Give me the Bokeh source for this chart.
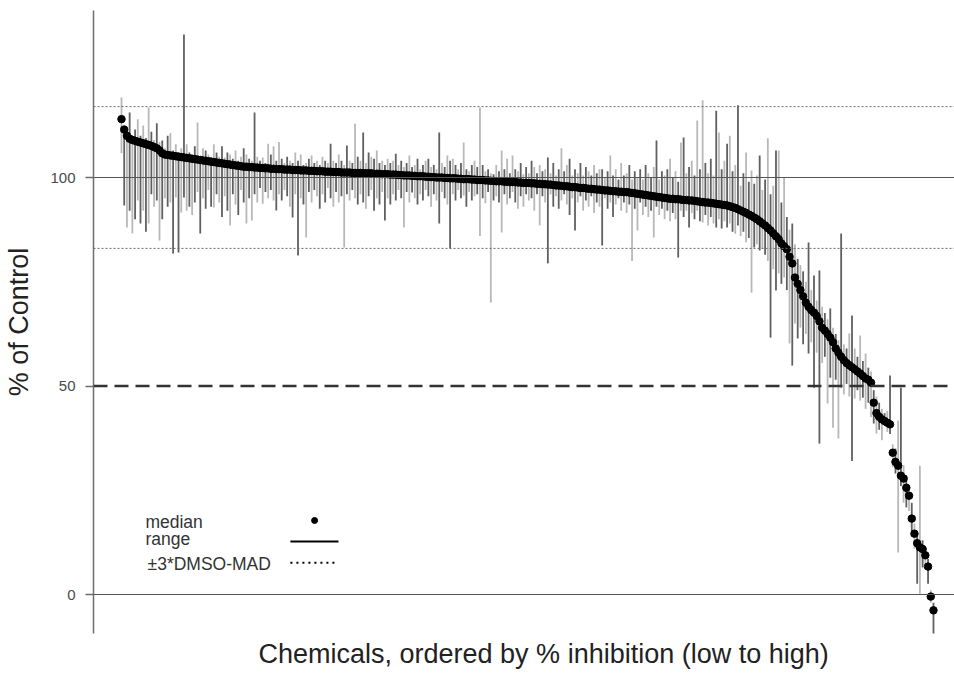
from bokeh.plotting import figure
from bokeh.models import Range1d, Span, FixedTicker, Label, Title
from bokeh.embed import file_html
from bokeh.resources import INLINE

# ---- data ----
median = [
    114.0, 111.5, 110.0, 109.3, 109.0, 108.8, 108.6, 108.4, 108.2, 108.0,
    107.8, 107.6, 107.3, 107.0, 106.5, 105.8, 105.5, 105.4, 105.3, 105.2,
    105.1, 105.0, 104.9, 104.8, 104.7, 104.6, 104.5, 104.4, 104.3, 104.2,
    104.1, 104.0, 103.9, 103.8, 103.7, 103.6, 103.5, 103.4, 103.3, 103.2,
    103.1, 103.0, 102.9, 102.8, 102.7, 102.6, 102.6,
    102.5, 102.5, 102.4, 102.4, 102.3,
    102.3, 102.2, 102.2, 102.1, 102.1,
    102.0, 102.0, 102.0, 101.9, 101.9,
    101.9, 101.8, 101.8, 101.8, 101.7,
    101.7, 101.7, 101.6, 101.6, 101.6,
    101.5, 101.5, 101.5, 101.4, 101.4,
    101.4, 101.3, 101.3, 101.3, 101.2,
    101.2, 101.2, 101.2, 101.1, 101.1,
    101.1, 101.1, 101.0, 101.0, 101.0,
    101.0, 100.9, 100.9, 100.9, 100.8,
    100.8, 100.8, 100.7, 100.7, 100.7,
    100.6, 100.6, 100.5, 100.5, 100.5,
    100.4, 100.4, 100.3, 100.3, 100.3,
    100.2, 100.2, 100.1, 100.1, 100.0,
    100.0, 100.0, 99.9, 99.9, 99.8,
    99.8, 99.8, 99.7, 99.7, 99.6,
    99.6, 99.6, 99.5, 99.5, 99.4,
    99.4, 99.4, 99.3, 99.3, 99.2,
    99.2, 99.1, 99.1, 99.1, 99.0,
    99.0, 98.9, 98.9, 98.9, 98.8,
    98.8, 98.7, 98.7, 98.7, 98.6,
    98.6, 98.5, 98.5, 98.4, 98.4,
    98.3, 98.3, 98.2, 98.1, 98.1,
    98.0, 97.9, 97.9, 97.8, 97.7,
    97.7, 97.6, 97.5, 97.5, 97.4,
    97.3, 97.3, 97.2, 97.1, 97.1,
    97.0, 96.9, 96.9, 96.8, 96.7,
    96.7, 96.6, 96.6, 96.5, 96.5,
    96.4, 96.3, 96.2, 96.1, 96.0,
    95.9, 95.8, 95.7, 95.6, 95.5,
    95.4, 95.3, 95.2, 95.1, 95.0,
    94.9, 94.9, 94.8, 94.8, 94.7,
    94.6, 94.6, 94.5, 94.5, 94.4,
    94.3, 94.2, 94.1, 94.0, 94.0,
    93.9, 93.8, 93.7, 93.6, 93.5,
    93.4, 93.3, 93.1, 92.9, 92.7,
    92.4, 92.1, 91.8, 91.5, 91.1,
    90.8, 90.4, 90.0, 89.5, 89.0,
    88.5, 87.9, 87.3, 86.6, 85.9,
    85.2, 84.2, 83.5, 82.8, 81.0,
    79.4, 76.0, 74.5, 73.0, 71.5,
    70.0, 69.0, 68.2, 67.6, 66.8,
    65.5, 64.0, 63.3, 62.5, 61.6,
    60.5, 59.0, 58.0, 57.0, 56.2,
    55.5, 55.0, 54.5, 54.0, 53.5,
    53.0, 52.4, 51.8, 51.5, 50.8,
    46.0, 43.5, 42.6, 42.0, 41.6,
    41.2, 40.8, 34.0, 31.8, 30.9,
    28.5, 27.8, 25.6, 23.7, 18.2,
    14.6, 12.3, 11.3, 10.9, 9.4,
    6.7, -0.5, -3.8,
]

range_low = [
    105.8, 93.3, 88.0, 92.0, 86.6, 90.0, 94.5, 89.0, 92.0, 87.0,
    89.0, 96.0, 93.0, 94.5, 84.9, 90.0, 95.0, 93.0, 94.0, 81.8,
    95.2, 82.0, 91.6, 95.2, 92.0, 93.0, 91.0, 94.0, 96.5, 86.6,
    95.0, 92.5, 97.0, 93.0, 92.8, 96.0, 94.0, 90.5, 95.5, 92.0,
    88.5, 96.0, 93.5, 91.0, 97.0, 94.0, 89.0,
    95.0, 89.7, 96.0, 94.0, 97.5, 93.7, 96.5, 95.0, 97.0, 94.5,
    92.1, 96.0, 94.5, 97.0, 95.5, 93.0, 90.4, 96.0, 81.3, 95.0,
    93.5, 85.6, 96.5, 94.0, 97.0, 95.5, 92.5, 96.0, 94.0, 97.5,
    95.0, 93.0, 96.5, 94.0, 95.5, 83.2, 96.0, 94.5, 97.0, 95.0,
    93.5, 96.0, 94.0, 92.5, 95.5, 97.0, 92.0, 95.0, 93.5, 96.5,
    89.7, 95.0, 93.5,
    96.0, 94.5, 97.0, 95.0, 88.0, 96.5, 94.0, 96.4, 95.0, 93.5,
    96.0, 94.5, 97.0, 95.5, 93.0, 96.0, 94.5, 89.0, 96.5, 95.0,
    93.5, 83.0, 96.0, 94.5, 97.0, 95.0, 95.7, 93.0, 96.5, 94.5,
    95.5, 96.0, 86.0, 95.0, 93.8, 96.5, 70.0, 94.5, 95.5, 94.0,
    86.8, 96.0, 93.5, 95.0, 96.5, 94.0, 92.5, 95.5, 93.0, 96.0,
    94.5, 95.0, 92.0, 96.0, 88.5,
    95.5, 94.0, 79.4, 96.0, 93.0, 95.5, 92.5, 94.5, 96.0, 93.5,
    91.0, 95.0, 87.3, 94.0, 95.5, 92.0, 94.5, 93.0, 95.5, 91.5,
    94.0, 93.0, 83.7, 95.0, 92.5, 94.0, 90.5, 93.5, 95.0, 92.0,
    94.0, 91.5, 93.5, 80.0, 92.5, 87.3, 94.0, 91.0, 93.0, 90.5,
    92.0, 85.6, 93.0, 91.0, 92.5, 90.0, 92.0, 89.5, 91.5, 90.0,
    80.8, 92.0,
    90.5, 92.0, 88.0, 91.5, 90.0, 92.0, 89.5, 89.2, 91.0, 88.5,
    90.5, 89.0, 88.0, 90.0, 87.8, 89.5, 88.0, 89.0, 87.0, 86.5,
    88.5, 86.0, 87.0, 84.5, 85.5, 72.4, 83.2, 84.0, 82.5, 83.0,
    81.5, 80.0, 61.6, 78.0, 72.9, 77.0, 74.5, 76.0, 73.0, 60.2,
    54.9, 65.0, 61.4, 64.0, 60.0, 62.5, 57.8, 60.5, 49.6, 58.0,
    36.2, 55.5, 57.0, 45.8, 52.0, 40.0, 51.5, 37.4, 49.6, 48.0,
    50.5, 47.5, 32.0, 47.0, 49.0, 46.5, 47.2, 44.5, 46.0, 42.5,
    41.0, 38.6, 39.5, 37.0, 40.5, 39.0, 38.5, 30.5, 29.0, 10.1,
    26.0, 22.0, 20.9, 20.0, 14.0, 11.0, 2.6, 0.2, 6.5, 6.0,
    2.6, -2.0, -10.3,
]

range_high = [
    119.2, 112.0, 111.0, 115.6, 110.0, 111.5, 114.0, 110.0, 112.5, 109.5,
    116.8, 111.0, 109.0, 113.0, 108.5, 108.9, 107.0, 110.0, 110.6, 106.5,
    108.0, 106.0, 107.0, 134.3, 108.0, 106.0, 105.5, 107.5, 113.2, 105.0,
    107.0, 106.5, 105.5, 104.8, 108.0, 106.0, 105.0, 107.5, 104.8, 106.0,
    105.5, 104.5, 106.5, 104.0, 105.0, 107.0, 105.5,
    104.5, 104.0, 115.6, 105.0, 104.0, 104.8, 103.5, 108.1, 105.5, 107.5,
    104.0, 108.5, 104.5, 103.5, 105.0, 104.0, 103.5, 106.0, 104.0, 105.5,
    103.0, 103.5, 104.5, 105.3, 103.5, 104.0, 103.0, 105.0, 104.0, 103.5,
    108.1, 104.0, 103.5, 105.5, 104.0, 103.0, 107.7, 104.0, 103.5, 112.9,
    105.0, 104.0, 110.8, 103.5, 106.0, 105.0, 104.5, 106.5, 103.5, 104.0,
    103.0, 104.5, 103.5,
    104.0, 105.7, 103.0, 104.0, 102.5, 103.5, 105.3, 102.5, 103.0, 104.5,
    102.0, 103.0, 104.0, 104.5, 102.5, 103.0, 102.0, 110.8, 103.5, 102.5,
    105.3, 104.0, 104.5, 103.0, 102.0, 103.5, 108.4, 102.0, 101.5, 103.0,
    104.0, 102.5, 116.8, 103.0, 101.5, 102.0, 101.0, 100.8, 103.0, 101.5,
    106.5, 102.0, 104.5, 101.0, 105.3, 102.0, 101.5, 103.5, 100.8, 102.5,
    101.0, 104.0, 102.5, 101.0, 103.0,
    101.5, 102.0, 104.8, 101.0, 103.5, 100.5, 102.0, 107.0, 101.5, 103.0,
    104.5, 100.5, 102.0, 101.0, 103.5, 100.5, 102.5, 101.5, 100.5, 103.0,
    101.0, 102.0, 102.0, 100.0, 101.5, 105.3, 100.5, 102.0, 99.5, 103.5,
    100.5, 101.0, 103.0, 99.5, 101.5, 100.0, 102.0, 99.5, 103.0, 101.0,
    100.0, 102.5, 108.9, 99.5, 101.5, 100.5, 102.0, 104.5, 100.0, 101.5,
    99.0, 108.4,
    109.6, 101.0, 102.5, 104.0, 100.5, 113.7, 102.0, 118.5, 103.5, 101.0,
    104.5, 100.5, 116.0, 110.8, 102.0, 104.0, 108.1, 110.0, 101.5, 103.0,
    117.3, 98.0, 101.0, 106.0, 99.0, 101.7, 98.5, 100.5, 105.3, 97.0,
    99.5, 109.4, 96.0, 98.0, 106.5, 106.5, 94.0, 100.0, 90.5, 87.5,
    89.0, 84.0, 80.5, 79.0, 77.5, 75.0, 84.4, 73.0, 76.5, 70.5,
    77.7, 69.0, 67.5, 66.0, 68.6, 64.0, 62.5, 61.0, 86.6, 60.0,
    59.0, 62.6, 66.9, 59.0, 57.0, 62.1, 56.0, 57.8, 54.4, 53.5,
    49.0, 47.5, 46.0, 44.5, 43.5, 44.0, 52.5, 36.0, 35.0, 41.7,
    49.6, 31.0, 28.5, 26.0, 22.0, 17.0, 14.5, 30.9, 13.0, 11.0,
    8.5, 1.0, -2.0,
]

y_ticks = [0, 50, 100]
control_levels = [0, 100]
half_level = 50
mad_levels = [83, 117]   # +/- 3*DMSO-MAD around 100

assert len(median) == len(range_low) == len(range_high) == 300, (
    len(median), len(range_low), len(range_high))

n = len(median)
chem = list(range(1, n + 1))
bar_colors = ["#606060" if i % 2 else "#b8b8b8" for i in range(n)]

FONT = "Liberation Sans"

p = figure(width=954, height=673, output_backend="svg", toolbar_location=None,
           x_range=Range1d(-9.31, 307.74), y_range=Range1d(-9.35, 140.05),
           x_axis_location=None,
           min_border_left=93, min_border_right=0, min_border_top=10,
           min_border_bottom=40)
p.outline_line_color = None
p.grid.visible = False
p.background_fill_color = "white"

# y axis
ya = p.yaxis[0]
ya.ticker = FixedTicker(ticks=y_ticks)
ya.minor_tick_line_color = None
ya.major_tick_out = 8
ya.major_tick_in = 0
ya.axis_line_color = "#6e6e6e"
ya.axis_line_width = 1.5
ya.major_tick_line_color = "#6e6e6e"
ya.major_tick_line_width = 1.5
ya.major_label_text_font = FONT
ya.major_label_text_font_size = "15px"
ya.major_label_text_color = "#4a4a4a"
ya.major_label_standoff = 10
ya.axis_label = "% of Control"
ya.axis_label_text_font = FONT
ya.axis_label_text_font_size = "27px"
ya.axis_label_text_font_style = "normal"
ya.axis_label_text_color = "#222222"
ya.axis_label_standoff = 13

# reference lines
for lv in control_levels:
    p.add_layout(Span(location=lv, dimension="width", line_color="#555555",
                      line_width=1.2))
for lv in mad_levels:
    p.add_layout(Span(location=lv, dimension="width", line_color="#6a6a6a",
                      line_width=1, line_dash="2 2"))

# ranges
p.segment(x0=chem, y0=range_low, x1=chem, y1=range_high,
          line_color=bar_colors, line_width=1.8)

p.add_layout(Span(location=half_level, dimension="width", line_color="#333333",
                  line_width=2.5, line_dash="14 7"))

# medians
p.scatter(chem, median, size=7.5, color="black")

# legend (text left, symbol right)
leg_text_x = 9.8
for txt, ty, tx in [("median", 17.5, leg_text_x), ("range", 13.4, leg_text_x),
                    ("±3*DMSO-MAD", 7.4, leg_text_x + 0.8)]:
    p.add_layout(Label(x=tx, y=ty, text=txt, text_font=FONT,
                       text_font_size="17.5px", text_color="#333333",
                       text_baseline="middle", text_align="left"))
p.scatter([72.1], [17.75], size=6, color="black")
p.segment(x0=[63.2], y0=[12.7], x1=[80.9], y1=[12.7], line_color="black",
          line_width=2)
p.segment(x0=[63.2], y0=[7.6], x1=[79.8], y1=[7.6], line_color="black",
          line_width=2, line_dash="2 4")

# x axis title
p.add_layout(Title(text="Chemicals, ordered by % inhibition (low to high)",
                   align="left", offset=165, text_font=FONT,
                   text_font_size="27px", text_font_style="normal",
                   text_color="#222222", standoff=6), "below")

open("out.html", "w").write(file_html(p, INLINE))
